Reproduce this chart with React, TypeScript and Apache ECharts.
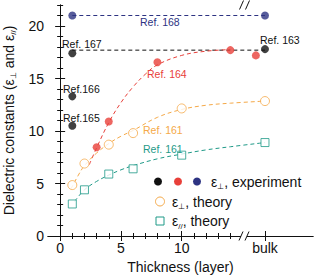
import React, { useEffect, useRef } from "react";
import * as echarts from "echarts";

const BULK = 16.85;
const FONT = "Liberation Sans, Arial, sans-serif";

// experimental points
const blackX = [1, 1, 1, BULK];
const blackY = [17.4, 13.3, 10.5, 17.8];
const redX = [3, 4, 8, 14, 16.1];
const redY = [8.45, 10.9, 16.55, 17.7, 17.2];
const blueX = [1, BULK];
const blueY = [21, 21];
// theory points
const perpX = [1, 2, 4, 6, 10, BULK];
const perpY = [4.85, 6.9, 8.7, 9.8, 12.15, 12.85];
const parX = [1, 2, 4, 6, 10, BULK];
const parY = [3.05, 4.4, 5.9, 6.4, 7.7, 8.9];
// dashed guide / fit curves
const blackLineX = [1, BULK];
const blackLineY = [17.7, 17.7];
const blueLineX = [1, BULK];
const blueLineY = [21, 21];
const redFitX = [2.4, 3, 4, 5, 6, 7, 8, 10, 12, 14];
const redFitY = [6.8, 8.4, 10.8, 12.7, 14.2, 15.4, 16.3, 17.2, 17.6, 17.75];
const perpFitX = [0.9, 1.5, 2, 3, 4, 5, 6, 8, 10, 12, 14, BULK];
const perpFitY = [4.5, 5.8, 6.7, 7.9, 8.8, 9.5, 10.05, 11.3, 12.05, 12.45, 12.65, 12.85];
const parFitX = [1.2, 2, 3, 4, 5, 6, 8, 10, 12, 14, BULK];
const parFitY = [3.3, 4.4, 5.2, 5.8, 6.3, 6.7, 7.35, 7.8, 8.2, 8.5, 8.9];

const xMinorTicks = [0, 1, 2, 3, 4, 5, 6, 7, 8, 9, 10, 11, 12, 13, 14];
const xMajorTicks = [0, 5, 10, BULK];
const yMinorTicks = Array.from({ length: 23 }, (_, i) => i);
const yMajorTicks = [0, 5, 10, 15, 20];

const BLACK = "#111111";
const RED = "#e8403a";
const BLUE = "#2d3382";
const ORANGE = "#f5a948";
const TEAL = "#1f9a88";

const zip = (xs: number[], ys: number[]) => xs.map((x, i) => [x, ys[i]]);

const G = { left: 48, top: 5, right: 313, bottom: 236 };

export default function App() {
  const ref = useRef<HTMLDivElement>(null);
  useEffect(() => {
    if (!ref.current) return;
    const chart = echarts.init(ref.current, undefined, { renderer: "svg" });
    const axisLine = { show: true, lineStyle: { color: BLACK, width: 1 } };
    const mkX = (pos: string, major: boolean, labels: boolean, line: boolean) => ({
      type: "value",
      position: pos,
      min: -1,
      max: 20.8,
      axisLine: { ...axisLine, show: line },
      axisTick: {
        show: true,
        inside: true,
        length: major ? 5 : 3,
        customValues: major ? xMajorTicks : xMinorTicks,
        lineStyle: { color: BLACK, width: 1 },
      },
      axisLabel: labels
        ? {
            show: true,
            customValues: xMajorTicks,
            formatter: (v: number) => (Math.abs(v - BULK) < 0.01 ? "bulk" : String(v)),
            fontSize: 14,
            fontFamily: FONT,
            color: BLACK,
            margin: 5,
          }
        : { show: false },
      splitLine: { show: false },
      ...(labels
        ? {
            name: "Thickness (layer)",
            nameLocation: "middle",
            nameGap: 24,
            nameTextStyle: { fontSize: 14, fontFamily: FONT, color: BLACK },
          }
        : {}),
    });
    const mkY = (pos: string, major: boolean, labels: boolean, line: boolean) => ({
      type: "value",
      position: pos,
      min: 0,
      max: 22,
      axisLine: { ...axisLine, show: line },
      axisTick: {
        show: true,
        inside: true,
        length: major ? 5 : 3,
        customValues: major ? yMajorTicks : yMinorTicks,
        lineStyle: { color: BLACK, width: 1 },
      },
      axisLabel: labels
        ? {
            show: true,
            customValues: yMajorTicks,
            fontSize: 14,
            fontFamily: FONT,
            color: BLACK,
            margin: 4,
          }
        : { show: false },
      splitLine: { show: false },
      ...(labels
        ? {
            name: "{a|Dielectric constants (ε}{s|⊥}{a| and ε}{s|//}{a|)}",
            nameLocation: "middle",
            nameGap: 29,
            nameTextStyle: {
              fontFamily: FONT,
              color: BLACK,
              rich: {
                a: { fontSize: 14, fontFamily: FONT, color: BLACK, lineHeight: 18 },
                s: { fontSize: 8, fontFamily: FONT, color: BLACK, lineHeight: 18, verticalAlign: "bottom" },
              },
            },
          }
        : {}),
    });

    const dashed = (name: string, xs: number[], ys: number[], color: string, smooth: boolean) => ({
      name,
      type: "line",
      data: zip(xs, ys),
      smooth: smooth ? 0.4 : false,
      symbol: "none",
      lineStyle: { color, width: 1, type: [4, 3] },
      z: 2,
      silent: true,
    });
    const scatter = (name: string, xs: number[], ys: number[], color: string, symbol: string, filled: boolean, size = 8) => ({
      name,
      type: "scatter",
      data: zip(xs, ys),
      symbol,
      symbolSize: size,
      itemStyle: filled
        ? { color, borderWidth: 0 }
        : { color: "#ffffff", borderColor: color, borderWidth: 1 },
      z: 5,
    });

    const refLabel = (text: string, x: number, y: number, color: string) => ({
      type: "text",
      x,
      y,
      z: 10,
      style: { text, fill: color, fontSize: 10.5, fontFamily: FONT, verticalAlign: "middle", align: "left" },
    });

    const richLeg = {
      a: { fontSize: 14, fontFamily: FONT, fill: BLACK, lineHeight: 18 },
      s: { fontSize: 8, fontFamily: FONT, fill: BLACK, lineHeight: 18, verticalAlign: "bottom" },
    } as any;

    const breakMark = (cx: number, cy: number) => [
      { type: "rect", shape: { x: cx - 3, y: cy - 1.5, width: 6, height: 3 }, style: { fill: "#ffffff" }, z: 20 },
      { type: "line", shape: { x1: cx - 5, y1: cy + 4.5, x2: cx - 1, y2: cy - 4.5 }, style: { stroke: BLACK, lineWidth: 1 }, z: 21 },
      { type: "line", shape: { x1: cx + 1, y1: cy + 4.5, x2: cx + 5, y2: cy - 4.5 }, style: { stroke: BLACK, lineWidth: 1 }, z: 21 },
    ];

    chart.setOption({
      animation: false,
      backgroundColor: "#ffffff",
      textStyle: { fontFamily: FONT },
      grid: {
        left: G.left,
        top: G.top,
        right: 315 - G.right,
        bottom: 278 - G.bottom,
        containLabel: false,
        outerBoundsMode: "none",
      },
      xAxis: [
        mkX("bottom", false, false, true),
        mkX("bottom", true, true, false),
        mkX("top", false, false, true),
        mkX("top", true, false, false),
      ],
      yAxis: [
        mkY("left", false, false, true),
        mkY("left", true, true, false),
        mkY("right", false, false, true),
        mkY("right", true, false, false),
      ],
      series: [
        dashed("blackLine", blackLineX, blackLineY, BLACK, false),
        dashed("blueLine", blueLineX, blueLineY, BLUE, false),
        dashed("redFit", redFitX, redFitY, RED, true),
        dashed("perpFit", perpFitX, perpFitY, ORANGE, true),
        dashed("parFit", parFitX, parFitY, TEAL, true),
        scatter("black", blackX, blackY, BLACK, "circle", true),
        scatter("red", redX, redY, RED, "circle", true),
        scatter("blue", blueX, blueY, BLUE, "circle", true),
        scatter("perp", perpX, perpY, ORANGE, "circle", false, 9),
        scatter("par", parX, parY, TEAL, "rect", false, 8),
      ],
      graphic: [
        refLabel("Ref. 168", 140, 21.5, BLUE),
        refLabel("Ref. 167", 62, 43.5, BLACK),
        refLabel("Ref.166", 63, 89, BLACK),
        refLabel("Ref.165", 63, 118, BLACK),
        refLabel("Ref. 163", 260, 40, BLACK),
        refLabel("Ref. 164", 147, 74, RED),
        refLabel("Ref. 161", 143, 130, ORANGE),
        refLabel("Ref. 161", 143, 148.5, TEAL),
        // legend
        { type: "circle", shape: { cx: 158, cy: 181.5, r: 4 }, style: { fill: BLACK }, z: 10 },
        { type: "circle", shape: { cx: 178, cy: 181.5, r: 4 }, style: { fill: RED }, z: 10 },
        { type: "circle", shape: { cx: 197, cy: 181.5, r: 4 }, style: { fill: BLUE }, z: 10 },
        {
          type: "text", x: 211, y: 181.5, z: 10,
          style: { text: "{a|ε}{s|⊥}{a|, experiment}", rich: richLeg, verticalAlign: "middle", fontFamily: FONT },
        },
        { type: "circle", shape: { cx: 160, cy: 201.5, r: 4.5 }, style: { fill: "#ffffff", stroke: ORANGE, lineWidth: 1 }, z: 10 },
        {
          type: "text", x: 172, y: 201.5, z: 10,
          style: { text: "{a|ε}{s|⊥}{a|, theory}", rich: richLeg, verticalAlign: "middle", fontFamily: FONT },
        },
        { type: "rect", shape: { x: 156, y: 217, width: 8, height: 8 }, style: { fill: "#ffffff", stroke: TEAL, lineWidth: 1 }, z: 10 },
        {
          type: "text", x: 172, y: 221, z: 10,
          style: { text: "{a|ε}{s|//}{a|, theory}", rich: richLeg, verticalAlign: "middle", fontFamily: FONT },
        },
        ...breakMark(244.5, G.top),
        ...breakMark(244, G.bottom),
      ],
    });
    return () => chart.dispose();
  }, []);
  return <div ref={ref} style={{ position: "absolute", left: 0, top: 0, width: 315, height: 278 }} />;
}
